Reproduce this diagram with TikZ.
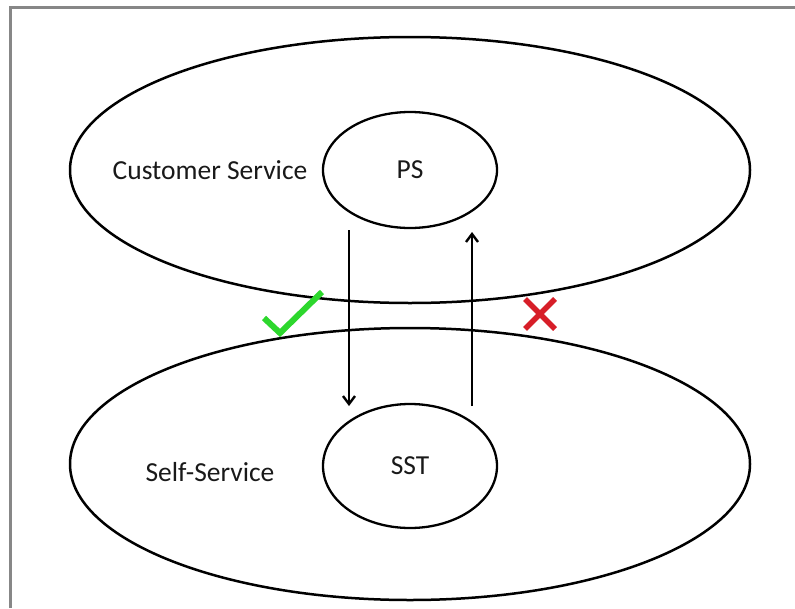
\documentclass[tikz,border=0pt]{standalone}
\usepackage{fontspec}
\setmainfont{Carlito}
\usetikzlibrary{shapes.geometric,arrows.meta,calc}
\definecolor{framegray}{RGB}{135,135,135}
\definecolor{okgreen}{RGB}{45,215,45}
\definecolor{nored}{RGB}{215,30,40}
\tikzset{
  svcarea/.style={draw=black, line width=2.5pt, ellipse, minimum width=680pt},
  svctool/.style={draw=black, line width=2.3pt, ellipse, minimum width=174pt},
  svctext/.style={font=\fontsize{27.5}{32}\selectfont, text=black!90, inner sep=0pt},
  svcflow/.style={line width=2.6pt, -{Straight Barb[length=8pt,width=12pt,line width=2.4pt]}},
}
\begin{document}
\begin{tikzpicture}[x=1pt,y=-1pt]
  \useasboundingbox (0,0) rectangle (795,608);
  % partial frame: top and left edges only
  \draw[framegray, line width=3.5pt] (10.5,608) -- (10.5,7.5) -- (795,7.5);

  % the two service domains
  \node[svcarea, minimum height=266pt] (cs) at (410,170) {};
  \node[svcarea, minimum height=272pt] (ss) at (410,464) {};

  % the service tools inside them
  \node[svctool, minimum height=116pt] (ps) at (410,170) {};
  \node[svctool, minimum height=124pt] (sst) at (410,466) {};
  \node[svctext] (pstext) at (ps) {PS};
  \node[svctext] (ssttext) at (sst) {SST};

  \node[svctext] (cslabel) at (210,170) {Customer Service};
  \node[svctext] (sslabel) at (210,472) {Self-Service};

  % transitions between the tools
  \coordinate (downstart) at (349,230);
  \coordinate (downend) at (349,406);
  \coordinate (upstart) at (472,406);
  \coordinate (upend) at (472,232);
  \draw[svcflow] (downstart) -- (downend);
  \draw[svcflow] (upstart) -- (upend);

  % allowed / not allowed marks
  \coordinate (ck1) at (264,318);
  \coordinate (ck2) at (280,333);
  \coordinate (ck3) at (322,292);
  \draw[okgreen, line width=6pt, line join=miter] (ck1) -- (ck2) -- (ck3);
  \coordinate (xc) at (540,314);
  \draw[nored, line width=5.5pt]
    ($(xc)+(-15,-15)$) -- ($(xc)+(15,15)$)
    ($(xc)+(-15,15)$) -- ($(xc)+(15,-15)$);
\end{tikzpicture}
\end{document}
